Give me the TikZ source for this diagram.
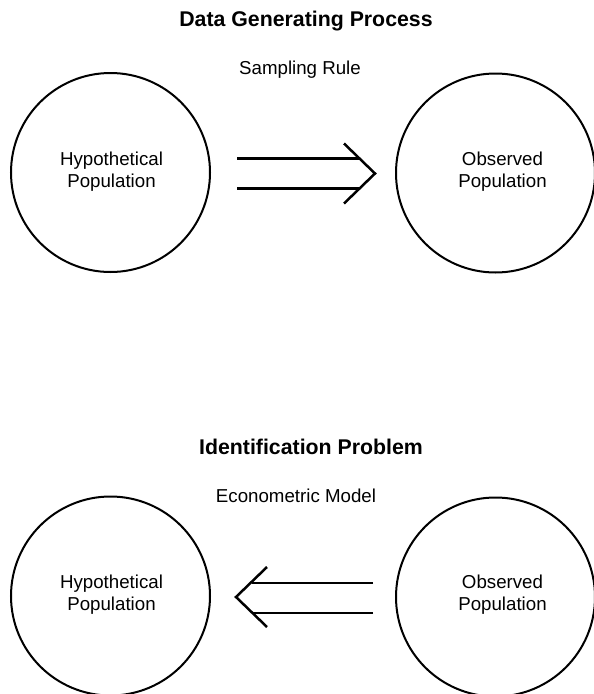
\documentclass[tikz,border=0pt]{standalone}
\usepackage{fontspec}
\setmainfont{Liberation Sans}
\begin{document}
\begin{tikzpicture}[x=1pt,y=-1pt,
  circ/.style={draw,circle,line width=2pt,inner sep=0pt,minimum size=199pt},
  lbl/.style={align=center,inner sep=0pt,font=\fontsize{18.7}{22}\selectfont},
  ttl/.style={inner sep=0pt,anchor=base,font=\fontsize{21.3}{25}\selectfont\bfseries},
  sub/.style={inner sep=0pt,anchor=base,font=\fontsize{18.7}{22}\selectfont},
  arr/.style={line width=2.5pt}]
\useasboundingbox (0,0) rectangle (594,694);
% ---- top panel ----
\node[ttl] (t1) at (306,26) {Data Generating Process};
\node[sub] (s1) at (300,74) {Sampling Rule};
\node[circ] (h1) at (110.5,172.5) {};
\node[circ] (o1) at (495.5,173) {};
\node[lbl] (h1l) at (111.5,171.3) {Hypothetical\\Population};
\node[lbl] (o1l) at (502.5,171.3) {Observed\\Population};
\coordinate (a1s) at (237,158.5);
\coordinate (a1t) at (237,188.5);
\coordinate (a1u) at (344,143.5);
\coordinate (a1tip) at (375,173.5);
\coordinate (a1l) at (344,203.5);
\coordinate (a1ue) at (359.5,158.5);
\coordinate (a1le) at (359.5,188.5);
\draw[arr] (a1s) -- (a1ue);
\draw[arr] (a1t) -- (a1le);
\draw[arr] (a1u) -- (a1tip) -- (a1l);
% ---- bottom panel ----
\node[ttl] (t2) at (311,454) {Identification Problem};
\node[sub] (s2) at (296,502) {Econometric Model};
\node[circ] (h2) at (110.5,596) {};
\node[circ] (o2) at (495.5,597) {};
\node[lbl] (h2l) at (111.5,594.5) {Hypothetical\\Population};
\node[lbl] (o2l) at (502.5,594.5) {Observed\\Population};
\coordinate (a2s) at (373,583);
\coordinate (a2t) at (373,613);
\coordinate (a2u) at (267,567);
\coordinate (a2tip) at (236,597);
\coordinate (a2l) at (267,627);
\coordinate (a2ue) at (251.5,583);
\coordinate (a2le) at (251.5,613);
\draw[arr] (a2s) -- (a2ue);
\draw[arr] (a2t) -- (a2le);
\draw[arr] (a2u) -- (a2tip) -- (a2l);
\end{tikzpicture}
\end{document}
